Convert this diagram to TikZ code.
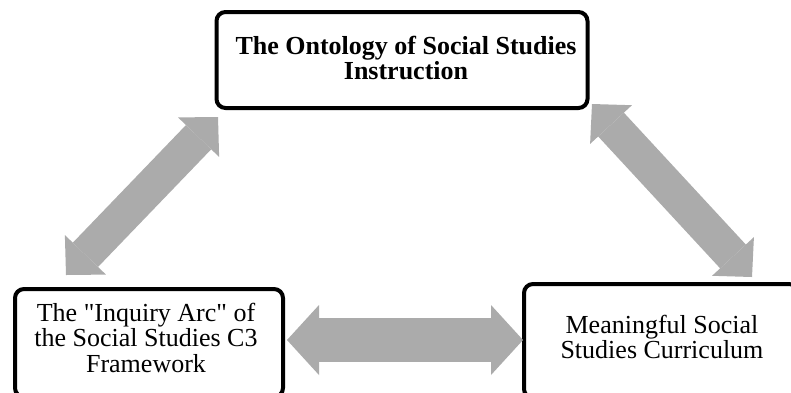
\documentclass[tikz,border=0pt]{standalone}
\usepackage{fontspec}
\setmainfont{Liberation Serif}
% same family without the TeX quote mapping, for straight double quotes
\newfontfamily\plainserif{Liberation Serif}
\usetikzlibrary{arrows.meta,calc}
\definecolor{arrowgray}{RGB}{171,171,171}
\newcommand{\straightquote}{{\plainserif\char34}}
\tikzset{
  box/.style={draw=black, line width=4pt, rounded corners=9pt, fill=white, inner sep=0pt},
  boxtext/.style={align=center, font=\fontsize{26}{25.5}\selectfont, inner sep=0pt},
  fatarrow/.style={draw=arrowgray, line width=35pt,
    {Triangle[length=28pt, width=57pt, line width=0pt]}-{Triangle[length=28pt, width=57pt, line width=0pt]}},
  widearrow/.style={draw=arrowgray, line width=44pt,
    {Triangle[length=32pt, width=70pt, line width=0pt]}-{Triangle[length=32pt, width=70pt, line width=0pt]}}
}
\begin{document}
\begin{tikzpicture}[x=1pt, y=-1pt]
  \useasboundingbox (0,0) rectangle (791,392);
  \clip (0,0) rectangle (791,392);
  \fill[white] (0,0) rectangle (791,392);

  % the three boxes
  \node[box, minimum width=371pt, minimum height=96pt] (onto) at (402,60) {};
  \node[box, minimum width=268pt, minimum height=108pt] (inq) at (149,343) {};
  \node[box, minimum width=274pt, minimum height=114pt] (mean) at (661,341) {};

  % box captions
  \node[boxtext, font=\fontsize{26}{25}\selectfont\bfseries] (ontoT) at (406,57.6)
    {The Ontology of Social Studies\\Instruction};
  \node[boxtext] (inqT) at (146,337.6)
    {The \straightquote Inquiry Arc\straightquote{} of\\the Social Studies C3\\Framework};
  \node[boxtext] (meanT) at (662,337.1)
    {Meaningful Social\\Studies Curriculum};

  % two-way block arrows between the boxes
  \draw[fatarrow] ($(inq.north west)+(53,-12)$) -- ($(onto.south west)+(3.5,7)$);
  \draw[fatarrow] ($(onto.south east)+(2.5,-6)$) -- ($(mean.north west)+(230,-5)$);
  \draw[widearrow] ($(inq.east)+(2,-3)$) -- ($(mean.west)+(1,-1)$);
\end{tikzpicture}
\end{document}
